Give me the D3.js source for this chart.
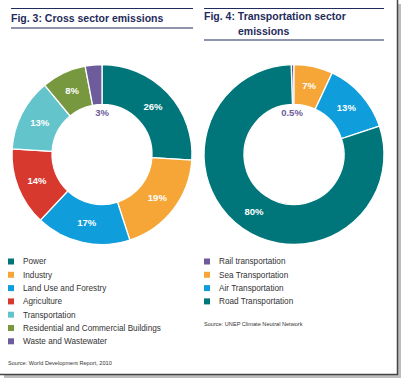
<!DOCTYPE html>
<html><head><meta charset="utf-8">
<script src="https://cdn.jsdelivr.net/npm/d3@7"></script>
<style>body{margin:0;background:#fff}svg{display:block;font-family:"Liberation Sans",Arial,sans-serif}</style>
</head><body>
<script>
const crossCategories = ["Power","Industry","Land Use and Forestry","Agriculture","Transportation","Residential and Commercial Buildings","Waste and Wastewater"];
const crossValues = [26,19,17,14,13,8,3];
const crossLabels = ["26%","19%","17%","14%","13%","8%","3%"];
const crossColors = ["#00767b","#f5a637","#0f9edb","#d8392f","#64c4cc","#77983f","#6d5b9b"];

const transCategories = ["Rail transportation","Sea Transportation","Air Transportation","Road Transportation"];
const transValues = [0.5,7,13,80];
const transLabels = ["0.5%","7%","13%","80%"];
const transColors = ["#6d5b9b","#f5a637","#0f9edb","#00767b"];

const W=401,H=379;
const svg=d3.select("body").append("svg").attr("width",W).attr("height",H);
svg.append("rect").attr("width",W).attr("height",H).attr("fill","#fff");
// frame shadow
svg.append("rect").attr("x",398).attr("y",4).attr("width",3).attr("height",373).attr("fill","#bdbdbd");
svg.append("rect").attr("x",4).attr("y",375).attr("width",397).attr("height",3).attr("fill","#bdbdbd");
svg.append("line").attr("x1",397.5).attr("x2",397.5).attr("y1",0).attr("y2",375).attr("stroke","#444").attr("stroke-width",1.5);
svg.append("line").attr("x1",0).attr("x2",398).attr("y1",374.5).attr("y2",374.5).attr("stroke","#444").attr("stroke-width",1.5);

const navy="#1f2b5b";
function rule(x1,x2,y){svg.append("line").attr("x1",x1).attr("x2",x2).attr("y1",y).attr("y2",y).attr("stroke",navy).attr("stroke-width",1.2);}
rule(11,193,8.5); rule(11,193,28);
rule(204,384,8.5); rule(204,384,40);
svg.append("text").attr("x",11).attr("y",22).attr("fill",navy).attr("font-weight","bold").attr("font-size",10.5).text("Fig. 3: Cross sector emissions");
svg.append("text").attr("x",204).attr("y",20).attr("fill",navy).attr("font-weight","bold").attr("font-size",10.5).text("Fig. 4: Transportation sector");
svg.append("text").attr("x",238).attr("y",35).attr("fill",navy).attr("font-weight","bold").attr("font-size",10.5).text("emissions");

function donut(cx,cy,values,labels,colors,offset,labelCfg){
  const pie=d3.pie().sort(null).startAngle(offset).endAngle(offset+2*Math.PI);
  const arcs=pie(values);
  const arc=d3.arc().innerRadius(50).outerRadius(90);
  const g=svg.append("g").attr("transform",`translate(${cx},${cy})`);
  g.selectAll("path").data(arcs).join("path").attr("d",arc).attr("fill",(d,i)=>colors[i]).attr("stroke","#fff").attr("stroke-width",1.3);
  const labArc=d3.arc().innerRadius(70).outerRadius(70);
  g.selectAll("text").data(arcs).join("text")
    .attr("transform",(d,i)=>{const c=labelCfg[i]?labelCfg[i](d):labArc.centroid(d);return `translate(${c[0]},${c[1]})`;})
    .attr("text-anchor","middle").attr("dy","0.35em").attr("font-weight","bold").attr("font-size",9.5)
    .attr("fill",(d,i)=>labelCfg[i]?colors[i]:"#fff").text((d,i)=>labels[i]);
}
const inside=d=>[0,-42];
donut(102,154.5,crossValues,crossLabels,crossColors,0,[null,null,null,null,null,null,inside]);
const tsum=d3.sum(transValues);
donut(294,154.5,transValues,transLabels,transColors,-2*Math.PI*transValues[0]/tsum,[d=>[-2,-42],null,null,null]);

function legend(x,y0,cats,colors,step){
  const g=svg.append("g");
  cats.forEach((c,i)=>{
    const y=y0+i*step;
    g.append("rect").attr("x",x).attr("y",y-3).attr("width",6).attr("height",6).attr("fill",colors[i]);
    g.append("text").attr("x",x+15).attr("y",y).attr("dy","0.35em").attr("font-size",8.2).attr("fill","#333").text(c);
  });
}
legend(8,261.5,crossCategories,crossColors,13.3);
legend(204,261.5,transCategories,transColors,13.3);
svg.append("text").attr("x",8).attr("y",365).attr("font-size",5.6).attr("fill","#333").text("Source: World Development Report, 2010");
svg.append("text").attr("x",204).attr("y",325.5).attr("font-size",5.6).attr("fill","#333").text("Source: UNEP Climate Neutral Network");
</script>
</body></html>
